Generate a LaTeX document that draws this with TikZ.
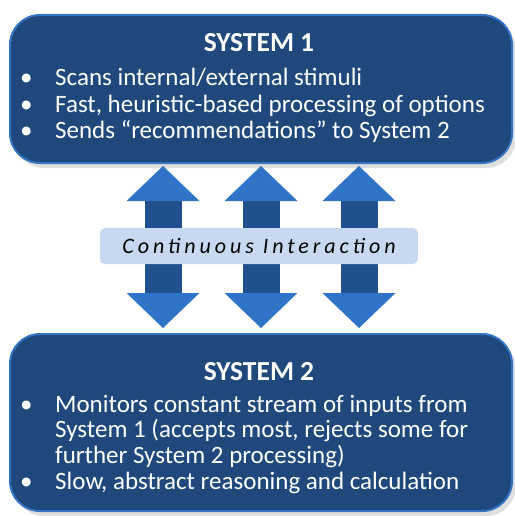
\documentclass[tikz,border=0pt]{standalone}
\usepackage{fontspec}
\setmainfont{Carlito}
\usetikzlibrary{arrows.meta,shadows}
\definecolor{sysblue}{HTML}{1F497D}
\definecolor{sysedge}{HTML}{3373C4}
\definecolor{headblue}{HTML}{2F74C9}
\definecolor{shaftblue}{HTML}{21508E}
\definecolor{linkfill}{HTML}{C6D9F1}
\tikzset{sysbox/.style={draw=sysedge, line width=2pt, fill=sysblue, rounded corners=30pt,
    minimum width=502pt, minimum height=148pt, anchor=north west,
    drop shadow={shadow xshift=4pt, shadow yshift=-5pt, opacity=0.25}}}
\tikzset{systitle/.style={text=white, font=\fontsize{27.5}{30}\selectfont\bfseries}}
\tikzset{syslist/.style={text=white, anchor=north west, inner sep=0pt,
    font=\fontsize{25}{26.5}\selectfont}}
\tikzset{fatarrow/.style={line width=37pt, draw=shaftblue,
    {Triangle[length=35pt, width=73pt, line width=0pt, color=headblue]}-{Triangle[length=35pt, width=73pt, line width=0pt, color=headblue]}}}
\tikzset{linkbox/.style={fill=linkfill, rounded corners=5pt, minimum width=318pt,
    minimum height=36pt, text=black,
    font=\fontsize{22}{26}\selectfont\itshape\addfontfeatures{LetterSpace=18}}}

\begin{document}
\begin{tikzpicture}[x=1pt, y=-1pt]
    \useasboundingbox (0,0) rectangle (514,516);

    % the two systems
    \node[sysbox] (sys1) at (9,14) {};
    \node[sysbox, minimum height=177pt] (sys2) at (9,333) {};

    \node[systitle] (sys1title) at (259,43) {SYSTEM 1};
    \node[syslist] (sys1list) at (20,67) {%
        \begin{tabular}{@{}p{35pt}@{}l@{}}
        \textbullet & Scans internal/external stimuli\\
        \textbullet & Fast, heuristic-based processing of options\\
        \textbullet & Sends “recommendations” to System 2
        \end{tabular}};

    \node[systitle] (sys2title) at (259,372) {SYSTEM 2};
    \node[syslist, font=\fontsize{25}{24}\selectfont] (sys2list) at (20,395) {%
        \begin{tabular}{@{}p{35pt}@{}l@{}}
        \textbullet & Monitors constant stream of inputs from\\
                    & System 1 (accepts most, rejects some for\\
                    & further System 2 processing)\\[2pt]
        \textbullet & Slow, abstract reasoning and calculation
        \end{tabular}};

    % arrows between them
    \foreach \dx in {-98,0,98}
        \draw[fatarrow] ([xshift=\dx pt, yshift=-2pt]sys1.south) -- ([xshift=\dx pt, yshift=5pt]sys2.north);

    \node[linkbox] (link) at (259,246) {Continuous Interaction};
\end{tikzpicture}
\end{document}
